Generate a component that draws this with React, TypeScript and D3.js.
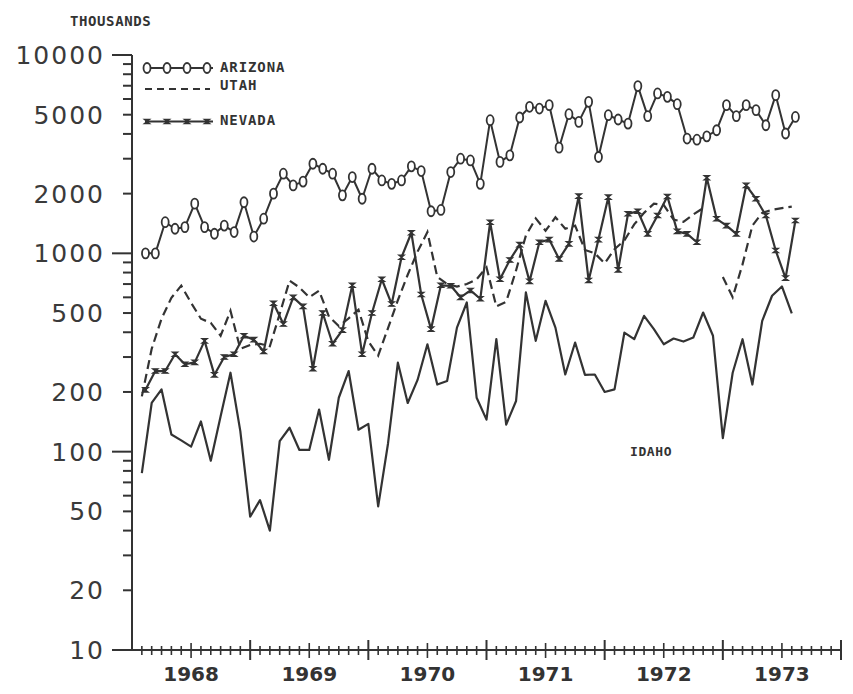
import React from 'react';
import * as d3 from 'd3';

// month index: 0 = Jan 1968, 72 = Jan 1974; data Feb 1968 .. Aug 1973
const months: number[] = d3.range(1, 68);

const arizona: number[] = [
  1000, 1000, 1435, 1330, 1355, 1780, 1355, 1255, 1380, 1280, 1810, 1215,
  1495, 2000, 2520, 2200, 2300, 2830, 2670, 2520, 1960, 2425, 1885, 2670,
  2330, 2240, 2330, 2745, 2600, 1630, 1655, 2570, 3000, 2940, 2240, 4690,
  2890, 3120, 4840, 5480, 5370, 5585, 3410, 5030, 4600, 5805, 3060, 4970,
  4730, 4510, 6970, 4915, 6400, 6150, 5650, 3790, 3740, 3890, 4175, 5585,
  4915, 5585, 5270, 4425, 6275, 4020, 4870,
];

const utah: (number | null)[] = [
  190, 330, 468, 597, 687, 563, 468, 446, 384, 513, 330, 345,
  350, 340, 495, 728, 673, 600, 648, 480, 430, 470, 520, 360,
  305, 420, 580, 780, 1020, 1280, 760, 700, 680, 700, 740, 850,
  540, 570, 820, 1230, 1500, 1300, 1520, 1330, 1380, 1040, 1000, 890,
  1050, 1160, 1400, 1600, 1780, 1750, 1480, 1440, 1570, 1690, null, 760,
  600, 880, 1380, 1600, 1660, 1690, 1720,
];

const nevada: number[] = [
  205, 255, 255, 310, 276, 282, 362, 244, 300, 310, 384, 367,
  320, 560, 440, 600, 540, 262, 500, 350, 410, 690, 310, 500,
  740, 555, 955, 1270, 620, 415, 690, 686, 600, 650, 590, 1435,
  740, 926, 1107, 722, 1137, 1173, 937, 1116, 1944, 730, 1173, 1920,
  825, 1582, 1631, 1254, 1552, 1935, 1290, 1254, 1137, 2406, 1493, 1380,
  1254, 2200, 1885, 1552, 1033, 750, 1463,
];

const idaho: number[] = [
  78, 176, 206, 122, 114, 106, 142, 90, 151, 250, 127, 47,
  57, 40, 113, 132, 102, 102, 163, 91, 187, 255, 129, 138,
  53, 110, 281, 176, 230, 348, 218, 227, 422, 565, 187, 145,
  369, 137, 180, 635, 362, 576, 422, 245, 355, 244, 245, 200,
  206, 398, 369, 484, 415, 348, 372, 359, 376, 503, 384, 117,
  250, 369, 218, 457, 611, 681, 498,
];

const yearLabels: string[] = ['1968', '1969', '1970', '1971', '1972', '1973'];
const yTickLabels: number[] = [10000, 5000, 2000, 1000, 500, 200, 100, 50, 20, 10];
const legendNames: string[] = ['ARIZONA', 'UTAH', 'NEVADA'];

const INK = '#333';
const MONO = '"DejaVu Sans Mono", monospace';
const SANS = '"DejaVu Sans", sans-serif';

export default function App() {
  const x = d3.scaleLinear().domain([0, 72]).range([132, 841]);
  const y = d3.scaleLog().domain([10, 10000]).range([650, 55]);
  const markShift = 0.37;

  const mkLine = (shift: number) =>
    d3
      .line<number | null>()
      .defined((v) => v != null)
      .x((_, i) => x(months[i] + shift))
      .y((v) => y(v as number));

  const yMinor: number[] = [];
  [10, 100, 1000].forEach((d) => {
    for (let m = 2; m <= 9; m++) yMinor.push(d * m);
  });
  const yMajor = [10, 100, 1000, 10000];

  const xTicks = d3.range(1, 73);

  const nevMarker = 'M-2.8,-2.2H2.8L-2.8,2.2H2.8Z';

  return (
    <svg
      width={853}
      height={694}
      style={{ position: 'absolute', left: 0, top: 0, background: '#fff' }}
    >
      <rect x={0} y={0} width={853} height={694} fill="#fff" />
      {/* Y axis */}
      <line x1={132} x2={132} y1={y(10000)} y2={y(10)} stroke={INK} strokeWidth={2} />
      {yMajor.map((v) => (
        <line key={'ym' + v} x1={112} x2={132} y1={y(v)} y2={y(v)} stroke={INK} strokeWidth={2} />
      ))}
      {yMinor.map((v) => (
        <line key={'yn' + v} x1={123} x2={132} y1={y(v)} y2={y(v)} stroke={INK} strokeWidth={2} />
      ))}
      {yTickLabels.map((v) => (
        <text
          key={'yl' + v}
          x={105}
          y={y(v)}
          dy="0.36em"
          textAnchor="end"
          fontFamily={SANS}
          fontSize={25}
          letterSpacing={2}
          fill="#3a3a3a"
        >
          {v}
        </text>
      ))}
      <text x={70} y={26} fontFamily={MONO} fontWeight="bold" fontSize={14} letterSpacing={0.6} fill={INK}>
        THOUSANDS
      </text>

      {/* X axis */}
      <line x1={112} x2={x(72)} y1={650} y2={650} stroke={INK} strokeWidth={2} />
      {xTicks.map((m) => {
        const big = m % 12 === 0;
        const mid = m % 12 === 6;
        const up = big ? 10 : mid ? 7 : 4;
        const dn = big ? 10 : mid ? 8 : 5;
        return (
          <line
            key={'xt' + m}
            x1={x(m)}
            x2={x(m)}
            y1={650 - up}
            y2={650 + dn}
            stroke={INK}
            strokeWidth={big ? 2 : 1.6}
          />
        );
      })}
      {yearLabels.map((t, i) => (
        <text
          key={'xl' + t}
          x={x(i * 12 + 6)}
          y={674}
          dy="0.36em"
          textAnchor="middle"
          fontFamily={SANS}
          fontWeight="bold"
          fontSize={20}
          fill={INK}
        >
          {t}
        </text>
      ))}

      {/* Series */}
      <path d={mkLine(0)(idaho) || ''} fill="none" stroke={INK} strokeWidth={2.2} strokeLinejoin="round" />
      <path
        d={mkLine(0)(utah) || ''}
        fill="none"
        stroke={INK}
        strokeWidth={2.2}
        strokeDasharray="9,5"
      />
      <path d={mkLine(markShift)(nevada) || ''} fill="none" stroke={INK} strokeWidth={2.2} strokeLinejoin="round" />
      {nevada.map((v, i) => (
        <path
          key={'nm' + i}
          d={nevMarker}
          transform={`translate(${x(months[i] + markShift)},${y(v)})`}
          fill={INK}
          stroke={INK}
          strokeWidth={1.2}
        />
      ))}
      <path d={mkLine(markShift)(arizona) || ''} fill="none" stroke={INK} strokeWidth={2} strokeLinejoin="round" />
      {arizona.map((v, i) => (
        <ellipse
          key={'am' + i}
          cx={x(months[i] + markShift)}
          cy={y(v)}
          rx={3.5}
          ry={5}
          fill="#fff"
          stroke={INK}
          strokeWidth={1.8}
        />
      ))}

      {/* Legend */}
      <line x1={145} x2={213} y1={68} y2={68} stroke={INK} strokeWidth={2} />
      {[147, 167, 187, 207].map((cx) => (
        <ellipse key={'la' + cx} cx={cx} cy={68} rx={3.5} ry={5} fill="#fff" stroke={INK} strokeWidth={1.8} />
      ))}
      <line x1={145} x2={210} y1={89} y2={89} stroke={INK} strokeWidth={2} strokeDasharray="7,5" />
      <line x1={145} x2={213} y1={121.5} y2={121.5} stroke={INK} strokeWidth={2.2} />
      {[147, 167, 187, 207].map((cx) => (
        <path key={'ln' + cx} d={nevMarker} transform={`translate(${cx},121.5)`} fill={INK} stroke={INK} strokeWidth={1.2} />
      ))}
      {legendNames.map((t, i) => (
        <text
          key={'lt' + t}
          x={220}
          y={[67, 85, 120][i]}
          dy="0.36em"
          fontFamily={MONO}
          fontWeight="bold"
          fontSize={14}
          letterSpacing={0.9}
          fill={INK}
        >
          {t}
        </text>
      ))}
      <text
        x={630}
        y={451}
        dy="0.36em"
        fontFamily={MONO}
        fontWeight="bold"
        fontSize={13}
        letterSpacing={0.6}
        fill={INK}
      >
        IDAHO
      </text>
    </svg>
  );
}
